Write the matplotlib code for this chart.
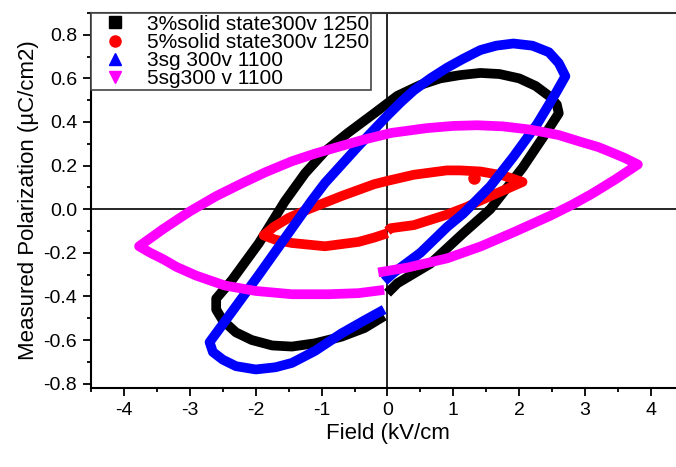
import numpy as np
import matplotlib
matplotlib.use("Agg")
import matplotlib.pyplot as plt
from matplotlib.lines import Line2D
from matplotlib.ticker import MultipleLocator

plt.rcParams['font.family'] = ['Liberation Sans', 'DejaVu Sans']

# Lazos de histéresis (campo kV/cm, polarización µC/cm2)
labels = ["3%solid state300v 1250", "5%solid state300v 1250",
          "3sg 300v 1100", "5sg300 v 1100"]

x_3ss = [0.0, 0.15, 0.65, 1.15, 1.56, 2.05, 2.45, 2.6, 2.57, 2.45, 2.25, 2.0,
         1.7, 1.41, 1.1, 0.8, 0.5, 0.15, -0.2, -0.6, -0.95, -1.25, -1.56, -1.95,
         -2.36, -2.6, -2.6, -2.5, -2.3, -2.06, -1.75, -1.45, -1.1, -0.7, -0.35,
         -0.05]
y_3ss = [-0.385, -0.34, -0.25, -0.11, 0.0, 0.19, 0.37, 0.44, 0.48, 0.52, 0.565,
         0.60, 0.62, 0.625, 0.615, 0.60, 0.57, 0.52, 0.44, 0.35, 0.265, 0.165,
         0.035, -0.155, -0.325, -0.41, -0.46, -0.51, -0.565, -0.60, -0.625,
         -0.63, -0.615, -0.585, -0.545, -0.49]

x_5ss = [0.0, 0.05, 0.4, 0.9, 1.2, 1.41, 1.75, 2.05, 1.75, 1.41, 1.1, 0.9, 0.4,
         0.0, -0.2, -0.7, -1.2, -1.5, -1.72, -1.88, -1.7, -1.45, -0.95, -0.44,
         -0.2, 0.0]
y_5ss = [-0.1, -0.087, -0.073, -0.025, 0.01, 0.04, 0.085, 0.125, 0.155, 0.173,
         0.178, 0.178, 0.158, 0.13, 0.115, 0.06, 0.0, -0.04, -0.08, -0.12,
         -0.14, -0.155, -0.17, -0.15, -0.13, -0.11]
# mancha roja cerca del extremo derecho
x_5ss_punto = [1.32]
y_5ss_punto = [0.145]

x_3sg = [-0.05, 0.1, 0.5, 0.91, 1.15, 1.56, 1.91, 2.27, 2.55, 2.70, 2.6, 2.45,
         2.2, 1.91, 1.65, 1.41, 1.15, 0.91, 0.65, 0.4, 0.2, 0.0, -0.44, -0.95,
         -1.15, -1.95, -2.36, -2.70, -2.65, -2.5, -2.3, -2.0, -1.7, -1.45, -1.1,
         -0.7, -0.35, -0.05]
y_3sg = [-0.33, -0.29, -0.2, -0.08, -0.02, 0.105, 0.24, 0.39, 0.53, 0.61, 0.67,
         0.72, 0.75, 0.76, 0.75, 0.73, 0.69, 0.65, 0.60, 0.545, 0.49, 0.43,
         0.29, 0.12, 0.04, -0.30, -0.47, -0.61, -0.655, -0.69, -0.72, -0.735,
         -0.725, -0.705, -0.65, -0.57, -0.51, -0.46]

x_5sg = [-0.14, 0.3, 0.91, 1.42, 1.92, 2.47, 2.8, 3.1, 3.45, 3.8, 3.6, 3.42,
         3.2, 2.92, 2.6, 2.17, 1.75, 1.36, 1.0, 0.6, 0.06, -0.35, -0.7, -1.1,
         -1.45, -1.85, -2.2, -2.6, -3.0, -3.4, -3.77, -3.6, -3.4, -3.2, -2.9,
         -2.47, -2.0, -1.45, -0.9, -0.44, -0.05]
y_5sg = [-0.29, -0.268, -0.225, -0.17, -0.105, -0.03, 0.02, 0.07, 0.135, 0.205,
         0.235, 0.258, 0.285, 0.31, 0.34, 0.365, 0.38, 0.385, 0.382, 0.372, 0.35,
         0.32, 0.29, 0.255, 0.22, 0.17, 0.12, 0.06, -0.01, -0.09, -0.17, -0.20,
         -0.23, -0.265, -0.305, -0.35, -0.375, -0.39, -0.39, -0.385, -0.37]

series = [(x_3ss, y_3ss), (x_5ss, y_5ss), (x_3sg, y_3sg), (x_5sg, y_5sg)]
colores = ["black", "#ff0000", "#0000ff", "#ff00ff"]
marcadores = ["s", "o", "^", "v"]

fig = plt.figure(figsize=(6.76, 4.67), dpi=100)
ax = fig.add_axes([0.1346, 0.1692, 0.8772, 0.8030])

# Ejes en cero
ax.axhline(0, color="black", lw=1.2, zorder=1)
ax.axvline(0, color="black", lw=1.2, zorder=1)

for i, ((xs, ys), c) in enumerate(zip(series, colores)):
    ax.plot(xs, ys, color=c, lw=7, solid_joinstyle="round",
            solid_capstyle="butt", zorder=2 + i)
    if i == 1:
        ax.plot(x_5ss_punto, y_5ss_punto, "o", color=c, ms=8, zorder=2 + i)

ax.set_xlim(-4.5, 4.5)
ax.set_ylim(-0.82, 0.9)
ax.xaxis.set_major_locator(MultipleLocator(1))
ax.xaxis.set_minor_locator(MultipleLocator(0.5))
ax.yaxis.set_major_locator(MultipleLocator(0.2))
ax.yaxis.set_minor_locator(MultipleLocator(0.1))
ax.yaxis.set_major_formatter(plt.FuncFormatter(lambda v, p: "%.1f" % v))
ax.xaxis.set_major_formatter(plt.FuncFormatter(lambda v, p: "%d" % round(v)))

ax.tick_params(which="major", direction="out", length=6, width=1.3,
               labelsize=14, pad=4)
ax.tick_params(which="minor", direction="out", length=3, width=1.3)
ax.spines["right"].set_visible(False)
for s in ["left", "bottom", "top"]:
    ax.spines[s].set_linewidth(1.5)
ax.spines["top"].set_color("#333333")

ax.set_xlabel("Field (kV/cm", fontsize=16, labelpad=3)
ax.set_ylabel("Measured Polarization (\u00b5C/cm2)", fontsize=16, labelpad=3)

# Leyenda solo con marcadores
handles = [Line2D([], [], ls="none", marker=m, color=c, markersize=8)
           for m, c in zip(marcadores, colores)]
leg = ax.legend(handles, labels, loc="upper left", bbox_to_anchor=(0, 1),
                borderaxespad=0, fontsize=15, frameon=True, fancybox=False,
                edgecolor="#444444", framealpha=1, borderpad=0.08,
                labelspacing=-0.04, handlelength=2.1, handletextpad=0.5)
leg.get_frame().set_linewidth(1.2)
leg.set_zorder(10)

fig.savefig("out.png", dpi=100)
